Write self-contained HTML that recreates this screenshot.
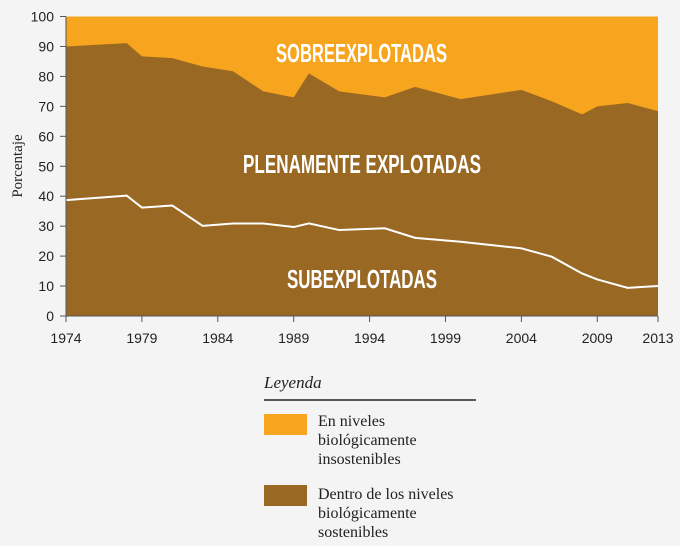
<!DOCTYPE html>
<html><head><meta charset="utf-8"><style>
body{margin:0;background:#f4f4f4;}
svg{display:block;font-family:"Liberation Sans",sans-serif;}
</style></head><body>
<svg width="680" height="546" viewBox="0 0 680 546" xmlns="http://www.w3.org/2000/svg">
<rect width="680" height="546" fill="#f4f4f4"/>
<g id="plot"></g>
<text x="22" y="166" transform="rotate(-90 22 166)" text-anchor="middle" font-family="Liberation Serif,serif" font-size="15" fill="#222">Porcentaje</text>
<g>
<text x="264" y="388" font-family="Liberation Serif,serif" font-style="italic" font-size="17" fill="#222">Leyenda</text>
<line x1="264" y1="400" x2="476" y2="400" stroke="#222" stroke-width="1.5"/>
<rect x="264" y="414" width="43" height="21" fill="#f7a51e"/>
<text font-family="Liberation Serif,serif" font-size="16" fill="#222"><tspan x="318" y="426">En niveles</tspan><tspan x="318" y="445">biológicamente</tspan><tspan x="318" y="464">insostenibles</tspan></text>
<rect x="264" y="485" width="43" height="21" fill="#996823"/>
<text font-family="Liberation Serif,serif" font-size="16" fill="#222"><tspan x="318" y="499">Dentro de los niveles</tspan><tspan x="318" y="518">biológicamente</tspan><tspan x="318" y="537">sostenibles</tspan></text>
</g>
</svg>
<script>
const years=[1974,1978,1979,1981,1983,1985,1987,1989,1990,1992,1995,1997,2000,2004,2006,2008,2009,2011,2013];
const sostenibles=[90.0,91.1,86.7,86.1,83.3,81.7,75.0,73.0,81.0,75.0,73.0,76.5,72.4,75.5,71.7,67.3,70.0,71.1,68.4];
const subexplotadas=[38.7,40.2,36.2,36.9,30.1,30.9,30.9,29.7,30.9,28.7,29.3,26.1,24.8,22.6,19.8,14.2,12.2,9.4,10.0];
const yTicks=[0,10,20,30,40,50,60,70,80,90,100];
const xTicks=[1974,1979,1984,1989,1994,1999,2004,2009,2013];
const X0=66,X1=658,Y0=316,Y1=16.5;
function sx(v){return X0+(v-1974)/(2013-1974)*(X1-X0);}
function sy(v){return Y0-v/100*(Y0-Y1);}
const NS="http://www.w3.org/2000/svg";
const g=document.getElementById('plot');
function mk(t,a){const e=document.createElementNS(NS,t);for(const k in a)e.setAttribute(k,a[k]);g.appendChild(e);return e;}
let r=mk('rect',{x:sx(1974),y:sy(100),width:sx(2013)-sx(1974),height:sy(0)-sy(100),fill:'#f7a51e'});


let d='M'+sx(years[0])+','+sy(0);
years.forEach((y,i)=>{d+=' L'+sx(y)+','+sy(sostenibles[i]);});
d+=' L'+sx(years[years.length-1])+','+sy(0)+' Z';
let a=mk('path',{d:d,fill:'#996823'});


let ld='';
years.forEach((y,i)=>{ld+=(i?' L':'M')+sx(y)+','+sy(subexplotadas[i]);});
let l=mk('path',{d:ld,fill:'none',stroke:'#fff','stroke-width':2});


let ax=mk('path',{d:'M'+X0+','+sy(100)+' L'+X0+','+Y0+' L'+X1+','+Y0,fill:'none',stroke:'#555','stroke-width':1});


yTicks.forEach(v=>{
 let t=mk('line',{x1:X0-6,x2:X0,y1:sy(v),y2:sy(v),stroke:'#555'});
 
 
 let tx=mk('text',{x:X0-12,y:sy(v)+5,'text-anchor':'end','font-size':14,fill:'#222'});
 tx.textContent=v;
 
 
});
xTicks.forEach(v=>{
 let t=mk('line',{x1:sx(v),x2:sx(v),y1:Y0,y2:Y0+6,stroke:'#555'});
 
 
 let tx=mk('text',{x:sx(v),y:Y0+27,'text-anchor':'middle','font-size':14,fill:'#222'});
 tx.textContent=v;
 
 
});
const labels=[['SOBREEXPLOTADAS',276,62,171,'label-sobreexplotadas'],['PLENAMENTE EXPLOTADAS',243,173,238,'label-plenamente-explotadas'],['SUBEXPLOTADAS',287,288,150,'label-subexplotadas']];
labels.forEach(L=>{
 let t=mk('text',{x:L[1],y:L[2],'font-family':'Liberation Sans Narrow,Liberation Sans,sans-serif','font-weight':'bold','font-size':26,fill:'#fff',textLength:L[3],lengthAdjust:'spacingAndGlyphs'});
 t.textContent=L[0];
 
 
});
</script>
</body></html>
